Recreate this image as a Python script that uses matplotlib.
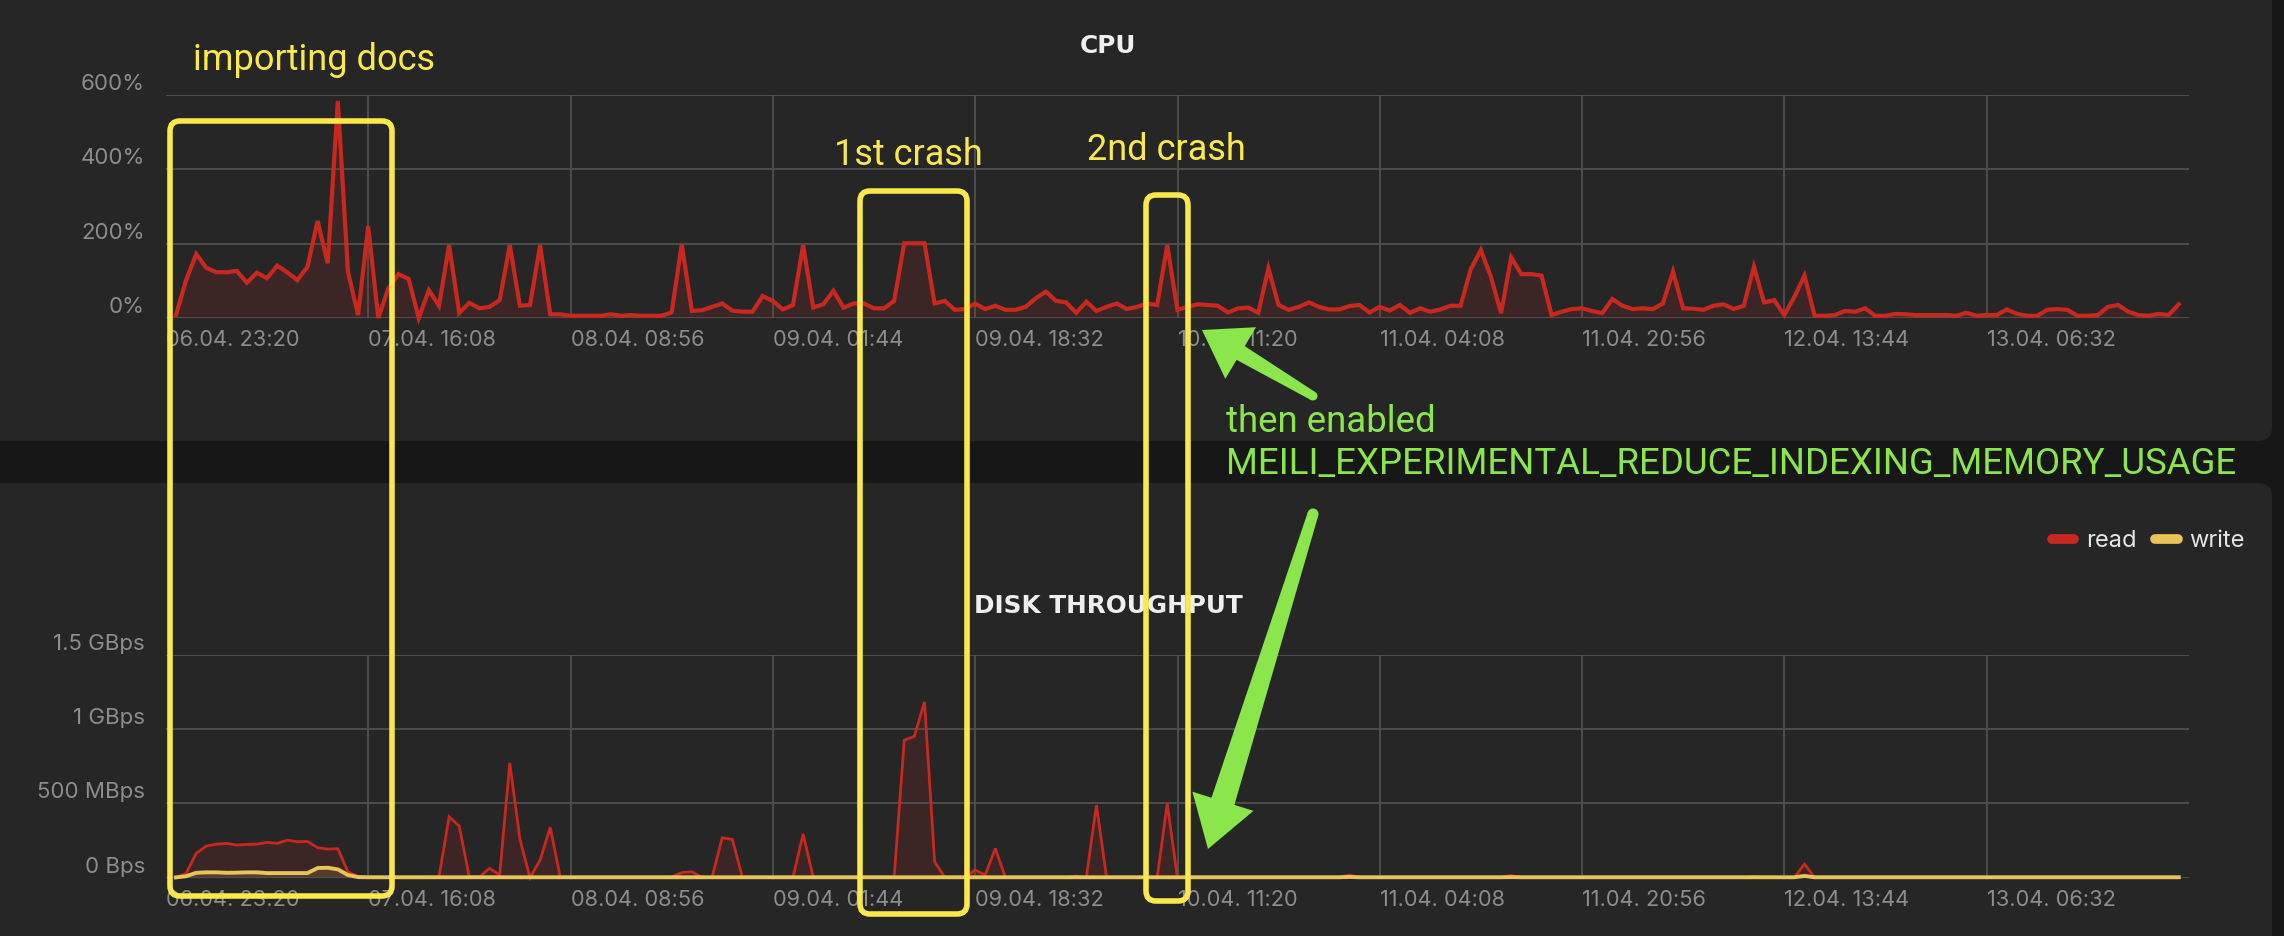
import numpy as np
import matplotlib
matplotlib.use("Agg")
import matplotlib.pyplot as plt
from matplotlib.lines import Line2D
from matplotlib.patches import FancyBboxPatch, Polygon, Circle
from matplotlib.transforms import IdentityTransform, blended_transform_factory, offset_copy

W, H, DPI = 2284, 936, 100

# samples every ~50 min, the first one ~50 min after 06.04. 23:20
first_sample_h = 0.83
sample_step_h = 0.84

cpu_pct = [
    8, 102, 172, 135, 123, 123, 127, 95, 122, 107, 141, 123, 102, 138, 261, 147, 584, 125, 8, 246,
    0, 80, 118, 105, 0, 75, 33, 196, 14, 41, 26, 30, 48, 196, 33, 35, 195, 10, 10, 6,
    6, 6, 6, 10, 6, 8, 6, 6, 6, 15, 198, 19, 21, 30, 39, 20, 17, 17, 59, 46,
    23, 35, 196, 28, 37, 73, 28, 39, 39, 26, 26, 46, 201, 201, 201, 39, 46, 22, 24, 39,
    24, 33, 22, 22, 30, 53, 71, 46, 42, 14, 44, 19, 30, 39, 24, 30, 39, 35, 196, 22,
    30, 37, 35, 33, 15, 26, 28, 14, 134, 35, 22, 30, 42, 30, 23, 23, 32, 35, 15, 30,
    20, 35, 14, 26, 17, 23, 33, 33, 131, 183, 111, 13, 163, 118, 118, 114, 8, 17, 24, 26,
    19, 13, 51, 33, 24, 26, 24, 39, 125, 26, 25, 22, 33, 37, 24, 33, 138, 42, 48, 8,
    57, 114, 6, 6, 8, 19, 17, 26, 6, 6, 11, 10, 8, 8, 8, 8, 6, 14, 6, 8,
    8, 23, 11, 6, 6, 22, 24, 22, 6, 6, 8, 30, 35, 17, 8, 6, 11, 8, 37,
]

# MB/s
disk_read = [
    0, 29, 164, 213, 226, 231, 220, 224, 226, 238, 231, 253, 242, 244, 202, 193, 195, 40, 7, 3,
    3, 3, 3, 3, 3, 3, 5, 410, 348, 5, 5, 63, 18, 773, 260, 0, 119, 339, 0, 2,
    2, 2, 2, 2, 2, 2, 2, 2, 2, 5, 34, 40, 2, 2, 269, 258, 2, 2, 2, 2,
    2, 2, 294, 2, 2, 2, 2, 2, 2, 2, 2, 2, 926, 953, 1184, 108, 2, 2, 2, 52,
    18, 197, 2, 2, 2, 2, 2, 2, 2, 11, 2, 489, 2, 2, 2, 2, 2, 2, 500, 2,
    2, 2, 2, 2, 2, 2, 2, 2, 2, 2, 2, 2, 2, 2, 2, 2, 18, 2, 2, 2,
    2, 2, 2, 2, 2, 2, 2, 2, 2, 2, 2, 2, 15, 2, 2, 2, 2, 2, 2, 2,
    2, 2, 2, 2, 2, 2, 2, 2, 2, 2, 2, 2, 2, 2, 2, 2, 8, 2, 2, 2,
    2, 92, 2, 2, 2, 2, 2, 2, 2, 2, 2, 2, 2, 2, 2, 2, 2, 2, 2, 2,
    2, 2, 2, 2, 2, 2, 2, 2, 2, 2, 2, 2, 2, 2, 2, 2, 2, 2, 2,
]
disk_write = [
    2, 10, 33, 36, 36, 33, 34, 36, 36, 31, 31, 31, 31, 31, 65, 67, 56, 18, 4, 3,
    3, 3, 3, 3, 3, 3, 3, 3, 3, 3, 3, 3, 3, 3, 3, 3, 3, 3, 3, 3,
    3, 3, 3, 3, 3, 3, 3, 3, 3, 3, 3, 3, 3, 3, 3, 3, 3, 3, 3, 3,
    3, 3, 3, 3, 3, 3, 3, 3, 3, 3, 3, 3, 3, 3, 3, 3, 3, 3, 3, 3,
    3, 3, 3, 3, 3, 3, 3, 3, 3, 3, 3, 3, 3, 3, 3, 3, 3, 3, 3, 3,
    3, 3, 3, 3, 3, 3, 3, 3, 3, 3, 3, 3, 3, 3, 3, 3, 5, 3, 3, 3,
    3, 3, 3, 3, 3, 3, 3, 3, 3, 3, 3, 3, 4, 3, 3, 3, 3, 3, 3, 3,
    3, 3, 3, 3, 3, 3, 3, 3, 3, 3, 3, 3, 3, 3, 3, 3, 3, 3, 3, 3,
    3, 12, 3, 3, 3, 3, 3, 3, 3, 3, 3, 3, 3, 3, 3, 3, 3, 3, 3, 3,
    3, 3, 3, 3, 3, 3, 3, 3, 3, 3, 3, 3, 3, 3, 3, 3, 3, 3, 3,
]

xtick_labels = ["06.04. 23:20", "07.04. 16:08", "08.04. 08:56", "09.04. 01:44", "09.04. 18:32",
                "10.04. 11:20", "11.04. 04:08", "11.04. 20:56", "12.04. 13:44", "13.04. 06:32"]
tick_step_h = 16.8
span_h = 168

cpu_ticks = [0, 200, 400, 600]
cpu_tick_labels = ["0%", "200%", "400%", "600%"]
disk_ticks = [0, 500, 1000, 1500]
disk_tick_labels = ["0 Bps", "500 MBps", "1 GBps", "1.5 GBps"]

C_BG = "#171717"
C_PANEL = "#262626"
C_GRID = "#4e4e4e"
C_TICK = "#8d8d8d"
C_TITLE = "#efefef"
C_READ = "#c9281f"
C_WRITE = "#e9c458"
C_YEL = "#fbe94b"
C_GREEN = "#8ae64a"

TICK_FONT = ["Inter", "DejaVu Sans"]
NOTE_FONT = ["Roboto", "DejaVu Sans"]

t = first_sample_h + sample_step_h * np.arange(len(cpu_pct))
xticks = tick_step_h * np.arange(len(xtick_labels))

fig = plt.figure(figsize=(W / DPI, H / DPI), dpi=DPI)
fig.patch.set_facecolor(C_BG)
ident = IdentityTransform()

# dashboard panels (pixel coords, y from top)
for y_top, y_bot in [(-40, 441), (483, H + 40)]:
    fig.add_artist(FancyBboxPatch((-40, H - y_bot), 2272 + 40, y_bot - y_top,
                                  boxstyle="round,pad=0,rounding_size=14",
                                  fc=C_PANEL, ec="none", transform=ident, zorder=-10))


def setup(ax, ticks, labels):
    ax.set_facecolor("none")
    for s in ax.spines.values():
        s.set_visible(False)
    ax.set_xlim(0, span_h)
    ax.set_ylim(ticks[0], ticks[-1])
    ax.set_yticks(ticks)
    ax.set_yticklabels([])
    ax.grid(axis="y", color=C_GRID, lw=1.4)
    for xv in xticks[1:]:
        ax.axvline(xv, color=C_GRID, lw=1.4, zorder=0.5)
    ax.set_xticks(xticks)
    ax.set_xticklabels(xtick_labels, color=C_TICK, fontsize=15.7, family=TICK_FONT)
    for lbl in ax.get_xticklabels():
        lbl.set_ha("left")
    ax.tick_params(length=0, axis="x", pad=8.5)
    ax.tick_params(length=0, axis="y")
    tr = offset_copy(blended_transform_factory(ax.transAxes, ax.transData), fig=fig, y=5, units="dots")
    for v, lab in zip(ticks, labels):
        ax.text(-0.0104, v, lab, transform=tr, ha="right", va="baseline",
                color=C_TICK, fontsize=16, family=TICK_FONT)


ax_cpu = fig.add_axes([166 / W, 1 - 318 / H, 2023 / W, 223 / H])
setup(ax_cpu, cpu_ticks, cpu_tick_labels)
ax_cpu.fill_between(t, 0, cpu_pct, color=C_READ, alpha=0.13, lw=0)
ax_cpu.plot(t, cpu_pct, color=C_READ, lw=3, solid_joinstyle="miter", clip_on=False)

ax_disk = fig.add_axes([166 / W, 1 - 877.7 / H, 2023 / W, 222.7 / H])
setup(ax_disk, disk_ticks, disk_tick_labels)
ax_disk.fill_between(t, 0, disk_read, color=C_READ, alpha=0.13, lw=0)
ax_disk.fill_between(t, 0, disk_write, color=C_WRITE, alpha=0.15, lw=0)
ax_disk.plot(t, disk_read, color=C_READ, lw=2, solid_joinstyle="miter", clip_on=False)
ax_disk.plot(t, disk_write, color=C_WRITE, lw=2.8, clip_on=False)

fig.text(1108 / W, 1 - 53 / H, "CPU", ha="center", va="baseline", color=C_TITLE,
         fontsize=17.8, fontweight="bold", family="DejaVu Sans")
fig.text(1108 / W, 1 - 613 / H, "DISK THROUGHPUT", ha="center", va="baseline", color=C_TITLE,
         fontsize=17.8, fontweight="bold", family="DejaVu Sans")

handles = [Line2D([], [], color=C_READ, lw=7, solid_capstyle="round"),
           Line2D([], [], color=C_WRITE, lw=7, solid_capstyle="round")]
fig.legend(handles, ["read", "write"], loc="center right", bbox_to_anchor=(2245 / W, 1 - 541 / H),
           ncol=2, frameon=False, handlelength=0.95, handletextpad=0.5, columnspacing=0.8,
           borderpad=0, borderaxespad=0, labelcolor="#e6e6e6",
           prop={"family": TICK_FONT, "size": 17})

# --- screenshot annotations (pixel coords, y from top) ---
for x0, x1, y0, y1 in [(170, 392, 121, 896), (860, 967, 191, 914), (1146, 1188, 195, 901)]:
    fig.add_artist(FancyBboxPatch((x0, H - y1), x1 - x0, y1 - y0,
                                  boxstyle="round,pad=0,rounding_size=10", fill=False,
                                  ec=C_YEL, lw=4, transform=ident, zorder=20))

for x, y, s in [(193, 70, "importing docs"), (834, 165, "1st crash"), (1087, 160, "2nd crash")]:
    fig.text(x / W, 1 - y / H, s, ha="left", va="baseline", color=C_YEL, fontsize=26,
             family=NOTE_FONT, zorder=20)
for x, y, s in [(1226, 432, "then enabled"), (1226, 474, "MEILI_EXPERIMENTAL_REDUCE_INDEXING_MEMORY_USAGE")]:
    fig.text(x / W, 1 - y / H, s, ha="left", va="baseline", color=C_GREEN, fontsize=26.4,
             family=NOTE_FONT, zorder=20)


def green_arrow(tail, tip, w_tail, w_neck, w_head, head_len):
    tail = np.array(tail, float)
    tip = np.array(tip, float)
    u = (tip - tail) / np.hypot(*(tip - tail))
    n = np.array([-u[1], u[0]])
    base = tip - head_len * u
    pts = [tail + n * w_tail / 2, base + n * w_neck / 2, base + n * w_head / 2, tip,
           base - n * w_head / 2, base - n * w_neck / 2, tail - n * w_tail / 2]
    fig.add_artist(Polygon([(p[0], H - p[1]) for p in pts], closed=True, fc=C_GREEN, ec="none",
                           transform=ident, zorder=21))
    fig.add_artist(Circle((tail[0], H - tail[1]), w_tail / 2, fc=C_GREEN, ec="none",
                          transform=ident, zorder=21))


green_arrow((1313, 396), (1202, 330), 9, 16, 60, 45)
green_arrow((1313, 514), (1208, 849), 11, 24, 64, 50)

fig.savefig("out.png", dpi=DPI, facecolor=fig.get_facecolor())
